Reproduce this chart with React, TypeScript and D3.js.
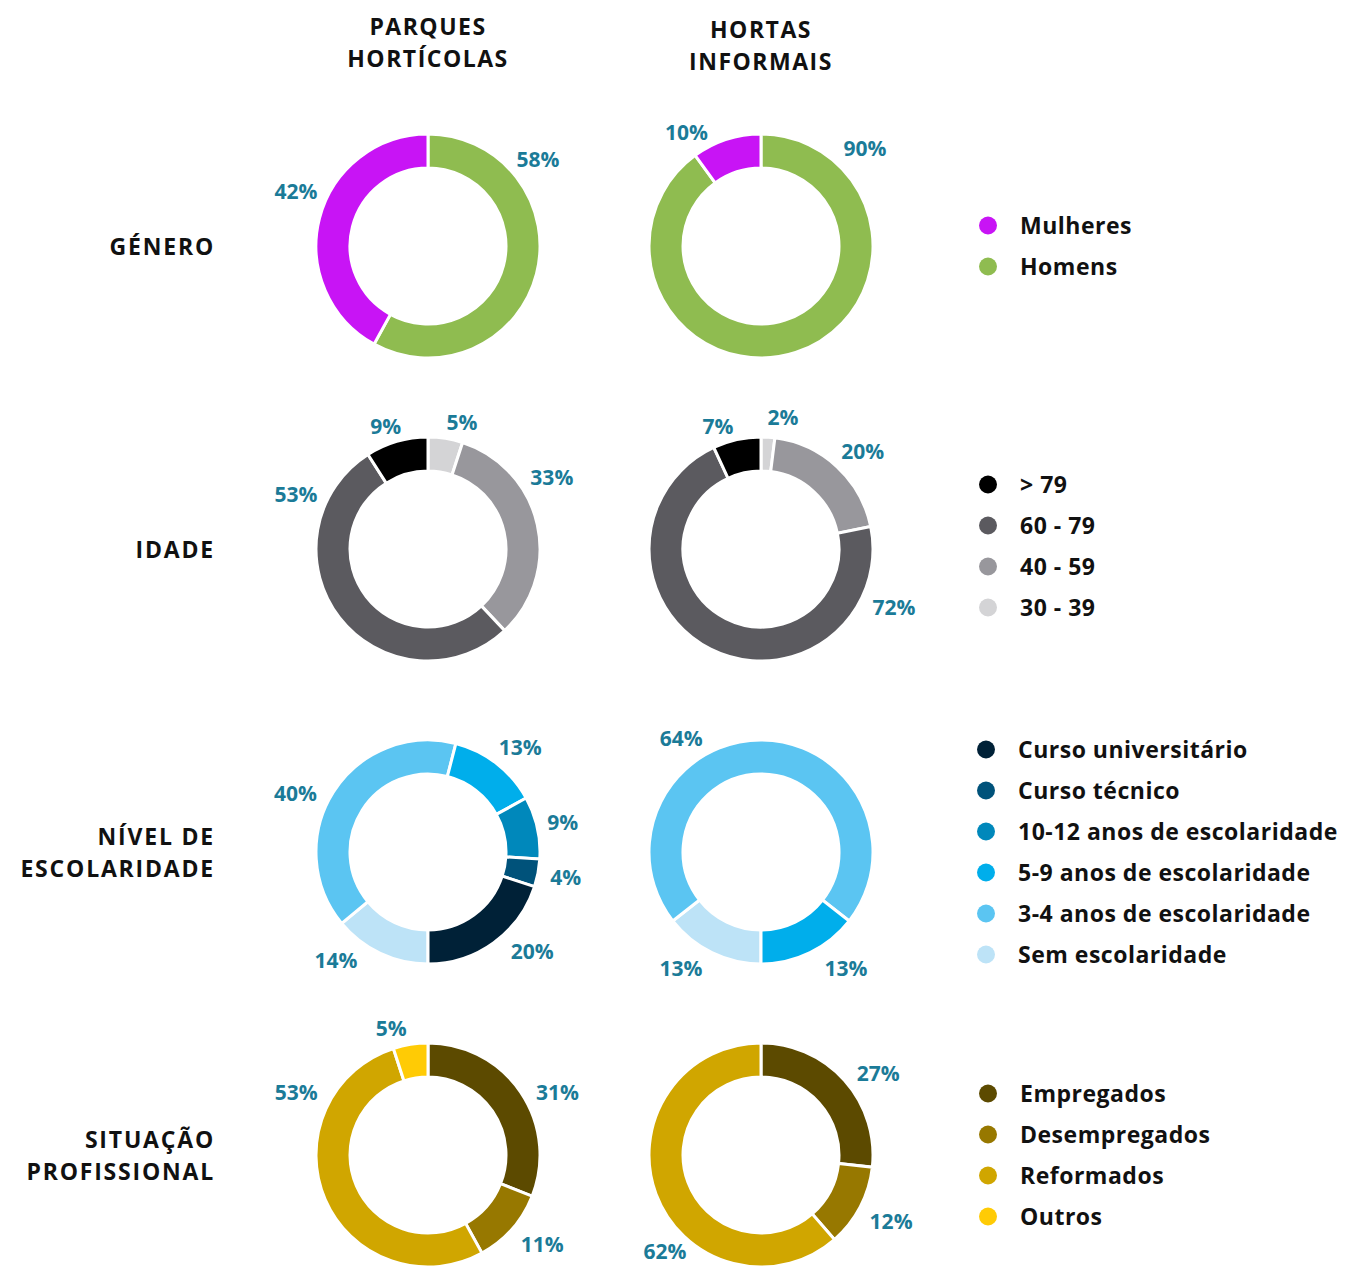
import React from 'react';
import * as d3 from 'd3';

// categories + colours (legend order)
const genderCats = ['Mulheres', 'Homens'];
const genderColors = ['#c814f5', '#8fbc50'];
const genderParques = [42, 58];
const genderInformais = [10, 90];

const ageCats = ['> 79', '60 - 79', '40 - 59', '30 - 39'];
const ageColors = ['#000000', '#5b5a5f', '#98979c', '#d4d4d6'];
const ageParques = [9, 53, 33, 5];
const ageInformais = [7, 72, 20, 2];

const eduCats = [
  'Curso universitário',
  'Curso técnico',
  '10-12 anos de escolaridade',
  '5-9 anos de escolaridade',
  '3-4 anos de escolaridade',
  'Sem escolaridade'
];
const eduColors = ['#002137', '#00527a', '#0088bb', '#00aeeb', '#5bc5f2', '#bde3f7'];
const eduParques = [20, 4, 9, 13, 40, 14];
const eduInformais = [0, 0, 0, 13, 64, 13];

const jobCats = ['Empregados', 'Desempregados', 'Reformados', 'Outros'];
const jobColors = ['#5c4a00', '#977800', '#d0a600', '#ffcb05'];
const jobParques = [31, 11, 53, 5];
const jobInformais = [27, 12, 62, 0];

const columnTitles = [['PARQUES', 'HORTÍCOLAS'], ['HORTAS', 'INFORMAIS']];

// label placement around each donut: [angle in degrees from 12 o'clock, radius]
type LabelPos = [number, number];
const layout = {
  width: 1351,
  height: 1266,
  colX: [428, 761],
  rowY: [246, 549, 852, 1155],
  outer: 112,
  inner: 78,
  rowLabelX: 215,
  legendDotX: 988,
  legendTextX: 1020,
  legendStep: 41
};

interface Row {
  title: string[];
  cats: string[];
  colors: string[];
  values: number[][];
  labels: LabelPos[][];
  reverse: boolean;
  start: number; // degrees
  legendShift: number;
  legendY: number;
}

const rows: Row[] = [
  {
    title: ['GÉNERO'],
    cats: genderCats,
    colors: genderColors,
    values: [genderParques, genderInformais],
    labels: [
      [[292.6, 143], [51.7, 140]],
      [[326.7, 136], [46.7, 143]]
    ],
    reverse: true,
    start: 0,
    legendShift: 0,
    legendY: 0
  },
  {
    title: ['IDADE'],
    cats: ageCats,
    colors: ageColors,
    values: [ageParques, ageInformais],
    labels: [
      [[341, 130], [292.6, 143], [60, 143], [15, 131]],
      [[340.7, 130], [113.6, 145], [46.1, 141], [9.5, 133]]
    ],
    reverse: true,
    start: 0,
    legendShift: 0,
    legendY: -3
  },
  {
    title: ['NÍVEL DE', 'ESCOLARIDADE'],
    cats: eduCats,
    colors: eduColors,
    values: [eduParques, eduInformais],
    labels: [
      [[133.6, 144], [100.3, 140], [77.5, 138], [41.5, 139], [294, 145], [220.4, 142]],
      [[0, 0], [0, 0], [0, 0], [143.8, 144], [325, 139], [214.6, 141]]
    ],
    reverse: true,
    start: 180,
    legendShift: -2,
    legendY: 0
  },
  {
    title: ['SITUAÇÃO', 'PROFISSIONAL'],
    cats: jobCats,
    colors: jobColors,
    values: [jobParques, jobInformais],
    labels: [
      [[64.1, 144], [128, 145], [295.5, 146], [343.8, 132]],
      [[55, 143], [117, 146], [225, 136], [0, 0]]
    ],
    reverse: false,
    start: 0,
    legendShift: 0,
    legendY: 0
  }
];

const FONT = "'Open Sans', 'Noto Sans', sans-serif";
const LABEL_COLOR = '#1b7b98';

const Donut: React.FC<{ row: Row; col: number }> = ({ row, col }) => {
  const cx = layout.colX[col];
  const cy = layout.rowY[rows.indexOf(row)];
  const values = row.values[col];
  const idx = d3.range(values.length);
  const order = row.reverse ? idx.slice().reverse() : idx;
  const rad = (row.start * Math.PI) / 180;
  const pie = d3
    .pie<number>()
    .sort(null)
    .value(i => values[i])
    .startAngle(rad)
    .endAngle(rad + 2 * Math.PI);
  const arcs = pie(order);
  const arc = d3.arc<d3.PieArcDatum<number>>().innerRadius(layout.inner).outerRadius(layout.outer);

  return (
    <g transform={`translate(${cx},${cy})`}>
      {arcs
        .filter(a => a.value > 0)
        .map(a => (
          <path key={a.data} d={arc(a) || ''} fill={row.colors[a.data]} stroke="#fff" strokeWidth={3} />
        ))}
      {idx
        .filter(i => values[i] > 0)
        .map(i => {
          const [deg, r] = row.labels[col][i];
          const t = (deg * Math.PI) / 180;
          return (
            <text
              key={'l' + i}
              x={r * Math.sin(t)}
              y={-r * Math.cos(t)}
              dy="0.36em"
              textAnchor="middle"
              fontFamily={FONT}
              fontWeight={700}
              fontSize={21}
              fill={LABEL_COLOR}
            >
              {values[i]}%
            </text>
          );
        })}
    </g>
  );
};

const Legend: React.FC<{ row: Row; ri: number }> = ({ row, ri }) => {
  const n = row.cats.length;
  const cy = layout.rowY[ri] + row.legendY;
  const y = d3
    .scalePoint<number>()
    .domain(d3.range(n))
    .range([cy - ((n - 1) * layout.legendStep) / 2, cy + ((n - 1) * layout.legendStep) / 2]);
  return (
    <g>
      {row.cats.map((c, i) => (
        <g key={c} transform={`translate(0,${y(i)})`}>
          <circle cx={layout.legendDotX + row.legendShift} cy={0} r={9} fill={row.colors[i]} />
          <text
            x={layout.legendTextX + row.legendShift}
            y={0}
            dy="0.36em"
            fontFamily={FONT}
            fontWeight={700}
            fontSize={23}
            letterSpacing={0.5}
            fill="#111"
          >
            {c}
          </text>
        </g>
      ))}
    </g>
  );
};

export default function App() {
  return (
    <div style={{ position: 'absolute', left: 0, top: 0 }}>
      <svg width={layout.width} height={layout.height} style={{ display: 'block', background: '#fff' }}>
        {columnTitles.map((lines, c) => (
          <text
            key={'ct' + c}
            x={layout.colX[c]}
            y={c === 0 ? 27 : 30}
            textAnchor="middle"
            fontFamily={FONT}
            fontWeight={700}
            fontSize={23}
            letterSpacing={1.5}
            fill="#111"
          >
            {lines.map((l, i) => (
              <tspan key={l} x={layout.colX[c]} dy={i === 0 ? '0.36em' : 32}>
                {l}
              </tspan>
            ))}
          </text>
        ))}
        {rows.map((row, ri) => {
          const n = row.title.length;
          const y0 = layout.rowY[ri] + 1 - ((n - 1) * 32) / 2;
          return (
            <g key={'r' + ri}>
              <text
                x={layout.rowLabelX}
                y={y0}
                textAnchor="end"
                fontFamily={FONT}
                fontWeight={700}
                fontSize={23}
                letterSpacing={1.8}
                fill="#111"
              >
                {row.title.map((l, i) => (
                  <tspan key={l} x={layout.rowLabelX} dy={i === 0 ? '0.36em' : 32}>
                    {l}
                  </tspan>
                ))}
              </text>
              <Donut row={row} col={0} />
              <Donut row={row} col={1} />
              <Legend row={row} ri={ri} />
            </g>
          );
        })}
      </svg>
    </div>
  );
}
